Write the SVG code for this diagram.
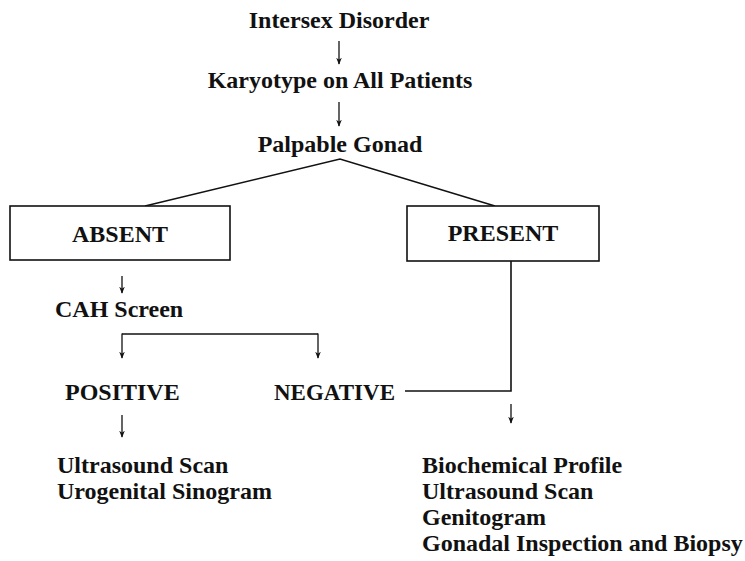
<svg xmlns="http://www.w3.org/2000/svg" width="745" height="561" viewBox="0 0 745 561">
<defs>
<style>
text{font-family:"Liberation Serif","Times New Roman",serif;font-weight:bold;font-size:24px;fill:#111}
.c{text-anchor:middle}
.ln{stroke:#111;stroke-width:1.6;fill:none}
.ar{stroke:#111;stroke-width:1.3;fill:none}
.box{fill:#fff;stroke:#111;stroke-width:1.6}
</style>
<marker id="ah" viewBox="0 0 10 10" refX="9" refY="5" markerWidth="7" markerHeight="7" orient="auto" markerUnits="userSpaceOnUse">
<path d="M0,1 L10,5 L0,9 L3,5 Z" fill="#111"/>
</marker>
</defs>
<rect width="745" height="561" fill="#fff"/>
<g id="connectors">
<line class="ar" x1="339" y1="41" x2="339" y2="64" marker-end="url(#ah)"/>
<line class="ar" x1="339" y1="102" x2="339" y2="126" marker-end="url(#ah)"/>
<polyline class="ln" points="145,206 340,159 495,206"/>
<line class="ar" x1="122" y1="276" x2="122" y2="293" marker-end="url(#ah)"/>
<polyline class="ar" points="122,334 318,334"/>
<line class="ar" x1="122" y1="333.4" x2="122" y2="358" marker-end="url(#ah)"/>
<line class="ar" x1="318" y1="333.4" x2="318" y2="358" marker-end="url(#ah)"/>
<polyline class="ln" points="405,391 511,391 511,261"/>
<line class="ar" x1="511" y1="404" x2="511" y2="423" marker-end="url(#ah)"/>
<line class="ar" x1="122" y1="415" x2="122" y2="437" marker-end="url(#ah)"/>
</g>
<g id="n-intersex"><text class="c" x="339" y="28">Intersex Disorder</text></g>
<g id="n-karyotype"><text class="c" x="340" y="88">Karyotype on All Patients</text></g>
<g id="n-palpable"><text class="c" x="340" y="152">Palpable Gonad</text></g>
<g id="n-absent"><rect class="box" x="10" y="206" width="220" height="54"/><text class="c" x="120" y="242">ABSENT</text></g>
<g id="n-present"><rect class="box" x="407" y="206" width="192" height="55"/><text class="c" x="503" y="241">PRESENT</text></g>
<g id="n-cah"><text x="55" y="317">CAH Screen</text></g>
<g id="n-positive"><text x="65" y="400">POSITIVE</text></g>
<g id="n-negative"><text x="274" y="400" textLength="121" lengthAdjust="spacingAndGlyphs">NEGATIVE</text></g>
<g id="n-pos-tests"><text x="57" y="473">Ultrasound Scan</text><text x="57" y="499">Urogenital Sinogram</text></g>
<g id="n-present-tests"><text x="422" y="473">Biochemical Profile</text><text x="422" y="499">Ultrasound Scan</text><text x="422" y="525">Genitogram</text><text x="422" y="551">Gonadal Inspection and Biopsy</text></g>
</svg>
